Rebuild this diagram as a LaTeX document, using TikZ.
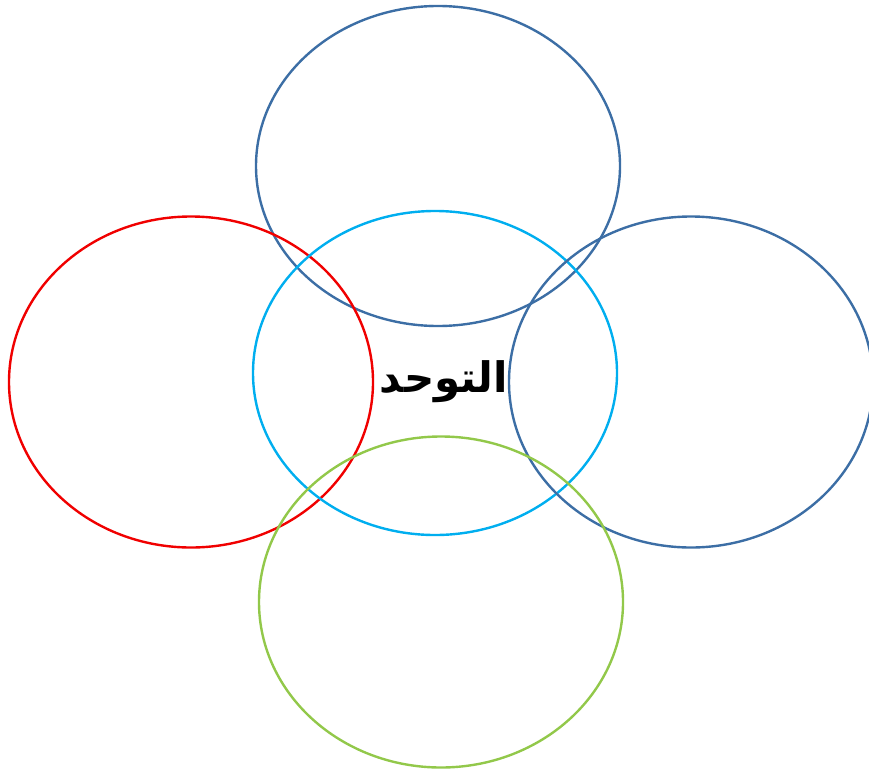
\documentclass[tikz,border=0pt]{standalone}
\usepackage{fontspec}
\usepackage{tikz}
\usetikzlibrary{shapes.geometric,positioning}
\usepackage{xcolor}
\TeXXeTstate=1
\newfontfamily\arabicfont[Script=Arabic]{DejaVu Sans}
\definecolor{ringblue}{HTML}{3C6EA5}
\definecolor{ringred}{HTML}{F00000}
\definecolor{ringcyan}{HTML}{00AEEF}
\definecolor{ringgreen}{HTML}{92C84A}

\begin{document}
\begin{tikzpicture}[
  x=1pt, y=-1pt,
  ring/.style={ellipse, line width=2.4pt, minimum width=364pt, inner sep=0pt},
  word/.style={font=\arabicfont\bfseries\fontsize{42}{46}\selectfont, inner sep=0pt},
]
  \useasboundingbox (0,0) rectangle (869,773);
  %% five rings
  \node[ring, draw=ringblue, minimum height=320pt] (upper) at (438,166) {};
  \node[ring, draw=ringred, minimum height=331pt] (left) at (191,382) {};
  \node[ring, draw=ringcyan, minimum height=324pt] (middle) at (435,373) {};
  \node[ring, draw=ringblue, minimum height=331pt] (right) at (691,382) {};
  \node[ring, draw=ringgreen, minimum height=331pt] (lower) at (441,602) {};
  %% centre word
  \node[word] (label) at (444,382) {\beginR التوحد\endR};
\end{tikzpicture}
\end{document}
